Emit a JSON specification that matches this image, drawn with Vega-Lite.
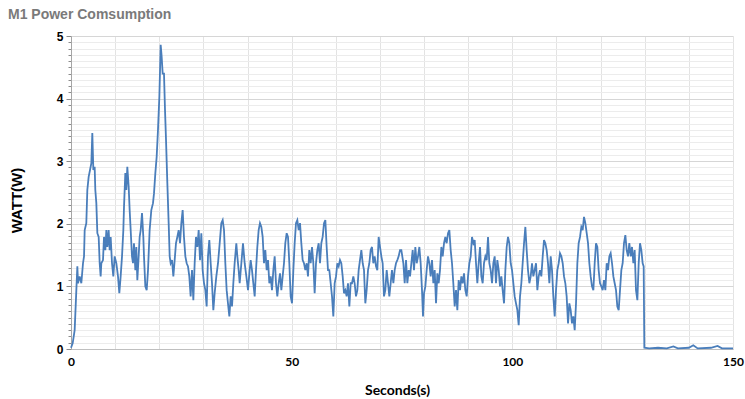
{
  "$schema": "https://vega.github.io/schema/vega-lite/v6.json",
  "autosize": {"type": "none"},
  "width": 662,
  "height": 313,
  "padding": {"left": 71, "top": 36, "right": 12, "bottom": 50},
  "background": "white",
  "title": {
    "text": "M1 Power Comsumption",
    "anchor": "start",
    "frame": "group",
    "dx": -63,
    "dy": 15,
    "offset": 12,
    "baseline": "alphabetic",
    "font": "Liberation Sans",
    "fontSize": 14,
    "fontWeight": "bold",
    "color": "#7a7a7a"
  },
  "config": {
    "view": {"stroke": null},
    "axis": {"labelFlush": false, "labelOverlap": false}
  },
  "data": {
    "values": [
      {"t":0,"w":0.02},{"t":0.38,"w":0.09},{"t":0.83,"w":0.30},{"t":1.21,"w":0.94},{"t":1.44,"w":1.32},{"t":1.59,"w":1.05},{"t":1.96,"w":1.16},{"t":2.34,"w":1.05},{"t":2.72,"w":1.37},{"t":2.95,"w":1.48},
      {"t":3.10,"w":1.90},{"t":3.47,"w":2.01},{"t":3.70,"w":2.54},{"t":4.00,"w":2.75},{"t":4.31,"w":2.86},{"t":4.61,"w":2.97},{"t":4.83,"w":3.45},{"t":5.06,"w":2.86},{"t":5.36,"w":2.91},{"t":5.51,"w":2.54},
      {"t":5.74,"w":2.33},{"t":5.97,"w":1.85},{"t":6.27,"w":1.79},{"t":6.50,"w":1.37},{"t":6.72,"w":1.16},{"t":6.87,"w":1.37},{"t":7.25,"w":1.42},{"t":7.48,"w":1.79},{"t":7.78,"w":1.58},{"t":8.01,"w":1.90},
      {"t":8.23,"w":1.63},{"t":8.53,"w":1.90},{"t":8.76,"w":1.58},{"t":8.99,"w":1.79},{"t":9.29,"w":1.37},{"t":9.59,"w":1.16},{"t":9.89,"w":1.48},{"t":10.27,"w":1.37},{"t":10.65,"w":1.16},{"t":10.95,"w":0.89},
      {"t":11.25,"w":1.16},{"t":11.56,"w":1.48},{"t":11.86,"w":1.90},{"t":12.01,"w":2.27},{"t":12.31,"w":2.81},{"t":12.54,"w":2.54},{"t":12.76,"w":2.91},{"t":13.07,"w":2.59},{"t":13.29,"w":2.22},{"t":13.52,"w":1.90},
      {"t":13.82,"w":1.48},{"t":14.05,"w":1.37},{"t":14.27,"w":1.69},{"t":14.58,"w":1.26},{"t":14.80,"w":1.63},{"t":15.03,"w":1.10},{"t":15.33,"w":1.48},{"t":15.56,"w":1.79},{"t":15.79,"w":1.90},{"t":16.09,"w":2.17},
      {"t":16.39,"w":1.79},{"t":16.54,"w":1.48},{"t":16.84,"w":1.00},{"t":17.15,"w":0.94},{"t":17.45,"w":1.26},{"t":17.82,"w":1.90},{"t":18.20,"w":2.22},{"t":18.58,"w":2.33},{"t":18.81,"w":2.49},{"t":19.11,"w":2.81},
      {"t":19.41,"w":3.07},{"t":19.71,"w":3.50},{"t":20.02,"w":4.03},{"t":20.32,"w":4.86},{"t":20.54,"w":4.67},{"t":20.77,"w":4.40},{"t":21.07,"w":4.40},{"t":21.30,"w":3.82},{"t":21.53,"w":3.34},{"t":21.83,"w":2.65},
      {"t":22.13,"w":2.01},{"t":22.36,"w":1.48},{"t":22.58,"w":1.37},{"t":22.89,"w":1.42},{"t":23.19,"w":1.16},{"t":23.49,"w":1.42},{"t":23.79,"w":1.69},{"t":24.09,"w":1.79},{"t":24.40,"w":1.90},{"t":24.70,"w":1.69},
      {"t":25.00,"w":2.01},{"t":25.30,"w":2.22},{"t":25.60,"w":1.79},{"t":25.91,"w":1.48},{"t":26.21,"w":1.37},{"t":26.51,"w":1.32},{"t":26.81,"w":1.16},{"t":27.11,"w":0.84},{"t":27.42,"w":1.26},{"t":27.72,"w":0.78},
      {"t":28.02,"w":1.37},{"t":28.32,"w":1.79},{"t":28.63,"w":1.63},{"t":28.93,"w":1.90},{"t":29.23,"w":1.42},{"t":29.53,"w":1.85},{"t":29.83,"w":1.26},{"t":30.14,"w":1.05},{"t":30.44,"w":0.94},{"t":30.74,"w":0.68},
      {"t":31.04,"w":1.48},{"t":31.34,"w":1.74},{"t":31.65,"w":1.37},{"t":31.95,"w":1.05},{"t":32.25,"w":0.62},{"t":32.55,"w":0.89},{"t":32.93,"w":1.16},{"t":33.31,"w":1.37},{"t":33.69,"w":1.69},{"t":34.06,"w":2.01},
      {"t":34.37,"w":2.06},{"t":34.67,"w":1.90},{"t":34.97,"w":1.37},{"t":35.27,"w":0.94},{"t":35.57,"w":0.73},{"t":35.88,"w":0.52},{"t":36.18,"w":0.84},{"t":36.48,"w":0.68},{"t":36.78,"w":1.05},{"t":37.08,"w":1.37},
      {"t":37.46,"w":1.69},{"t":37.69,"w":1.48},{"t":37.99,"w":1.26},{"t":38.22,"w":1.05},{"t":38.60,"w":1.37},{"t":38.97,"w":1.69},{"t":39.35,"w":1.37},{"t":39.73,"w":1.16},{"t":40.11,"w":0.94},{"t":40.48,"w":1.26},
      {"t":40.71,"w":1.42},{"t":41.01,"w":1.26},{"t":41.31,"w":1.05},{"t":41.62,"w":0.84},{"t":41.92,"w":1.26},{"t":42.22,"w":1.63},{"t":42.52,"w":1.90},{"t":42.82,"w":2.01},{"t":43.13,"w":1.95},{"t":43.43,"w":1.79},
      {"t":43.73,"w":1.37},{"t":44.03,"w":1.58},{"t":44.34,"w":1.26},{"t":44.64,"w":1.42},{"t":44.94,"w":1.05},{"t":45.24,"w":1.16},{"t":45.54,"w":0.94},{"t":45.85,"w":1.26},{"t":46.15,"w":1.48},{"t":46.45,"w":1.05},
      {"t":46.75,"w":0.84},{"t":47.05,"w":1.05},{"t":47.36,"w":1.21},{"t":47.66,"w":0.94},{"t":47.96,"w":1.16},{"t":48.26,"w":1.37},{"t":48.56,"w":1.69},{"t":48.87,"w":1.85},{"t":49.17,"w":1.79},{"t":49.47,"w":1.37},
      {"t":49.77,"w":0.84},{"t":50.08,"w":0.73},{"t":50.38,"w":1.26},{"t":50.68,"w":1.69},{"t":50.98,"w":2.01},{"t":51.28,"w":2.06},{"t":51.59,"w":1.90},{"t":51.89,"w":2.01},{"t":52.19,"w":1.69},{"t":52.49,"w":1.42},
      {"t":52.79,"w":1.37},{"t":53.10,"w":1.26},{"t":53.40,"w":1.37},{"t":53.70,"w":1.16},{"t":54.00,"w":1.58},{"t":54.31,"w":1.37},{"t":54.61,"w":1.63},{"t":54.91,"w":1.37},{"t":55.21,"w":0.89},{"t":55.51,"w":1.37},
      {"t":55.82,"w":1.58},{"t":56.12,"w":1.69},{"t":56.42,"w":1.37},{"t":56.72,"w":1.69},{"t":57.02,"w":1.79},{"t":57.33,"w":2.01},{"t":57.63,"w":2.06},{"t":57.93,"w":1.63},{"t":58.23,"w":1.26},{"t":58.53,"w":1.26},
      {"t":58.84,"w":1.05},{"t":59.14,"w":0.84},{"t":59.44,"w":0.52},{"t":59.74,"w":1.05},{"t":60.05,"w":1.16},{"t":60.35,"w":1.37},{"t":60.65,"w":1.32},{"t":60.95,"w":1.42},{"t":61.25,"w":1.37},{"t":61.56,"w":1.16},
      {"t":61.86,"w":0.89},{"t":62.16,"w":0.94},{"t":62.46,"w":0.84},{"t":62.76,"w":1.05},{"t":63.07,"w":0.68},{"t":63.37,"w":1.05},{"t":63.67,"w":1.05},{"t":63.97,"w":1.16},{"t":64.27,"w":1.05},{"t":64.58,"w":0.84},
      {"t":64.88,"w":0.94},{"t":65.18,"w":1.26},{"t":65.48,"w":1.42},{"t":65.79,"w":1.58},{"t":66.09,"w":1.37},{"t":66.39,"w":1.26},{"t":66.69,"w":0.73},{"t":66.99,"w":0.94},{"t":67.30,"w":1.26},{"t":67.60,"w":1.37},
      {"t":67.90,"w":1.58},{"t":68.20,"w":1.63},{"t":68.50,"w":1.37},{"t":68.81,"w":1.48},{"t":69.11,"w":1.32},{"t":69.41,"w":1.26},{"t":69.71,"w":1.79},{"t":70.02,"w":1.63},{"t":70.32,"w":1.48},{"t":70.62,"w":1.37},
      {"t":70.92,"w":0.84},{"t":71.22,"w":0.94},{"t":71.53,"w":1.26},{"t":71.83,"w":1.05},{"t":72.13,"w":0.84},{"t":72.43,"w":1.05},{"t":72.73,"w":1.26},{"t":73.04,"w":1.05},{"t":73.34,"w":1.26},{"t":73.64,"w":1.37},
      {"t":73.94,"w":1.42},{"t":74.24,"w":1.48},{"t":74.55,"w":1.58},{"t":74.85,"w":1.58},{"t":75.31,"w":1.37},{"t":75.61,"w":1.05},{"t":75.91,"w":1.42},{"t":76.21,"w":1.05},{"t":76.51,"w":1.26},{"t":76.82,"w":1.16},
      {"t":77.12,"w":1.37},{"t":77.42,"w":1.58},{"t":77.72,"w":1.26},{"t":78.02,"w":1.63},{"t":78.33,"w":1.37},{"t":78.63,"w":1.48},{"t":78.93,"w":1.63},{"t":79.23,"w":1.37},{"t":79.53,"w":0.94},{"t":79.76,"w":0.52},
      {"t":79.99,"w":0.89},{"t":80.29,"w":1.00},{"t":80.59,"w":1.26},{"t":80.89,"w":1.48},{"t":81.20,"w":1.37},{"t":81.50,"w":1.16},{"t":81.80,"w":1.42},{"t":82.10,"w":1.05},{"t":82.41,"w":1.26},{"t":82.71,"w":0.73},
      {"t":83.01,"w":1.21},{"t":83.31,"w":1.05},{"t":83.61,"w":1.26},{"t":83.92,"w":1.63},{"t":84.22,"w":1.48},{"t":84.52,"w":1.69},{"t":84.82,"w":1.79},{"t":85.12,"w":1.69},{"t":85.43,"w":1.85},{"t":85.73,"w":1.90},
      {"t":86.03,"w":1.58},{"t":86.33,"w":1.37},{"t":86.63,"w":1.05},{"t":86.94,"w":0.68},{"t":87.24,"w":0.94},{"t":87.54,"w":0.62},{"t":87.84,"w":1.10},{"t":88.15,"w":0.94},{"t":88.45,"w":1.16},{"t":88.75,"w":1.05},
      {"t":89.05,"w":1.21},{"t":89.35,"w":0.94},{"t":89.66,"w":0.84},{"t":89.96,"w":1.16},{"t":90.26,"w":1.37},{"t":90.56,"w":1.48},{"t":90.86,"w":1.79},{"t":91.17,"w":1.69},{"t":91.47,"w":1.74},{"t":91.77,"w":1.37},
      {"t":92.07,"w":1.05},{"t":92.37,"w":1.37},{"t":92.68,"w":1.63},{"t":92.98,"w":1.16},{"t":93.28,"w":1.05},{"t":93.58,"w":1.37},{"t":93.89,"w":1.48},{"t":94.19,"w":1.42},{"t":94.49,"w":1.79},{"t":94.79,"w":1.37},
      {"t":95.09,"w":1.26},{"t":95.40,"w":1.05},{"t":95.70,"w":1.37},{"t":96.00,"w":1.48},{"t":96.30,"w":1.05},{"t":96.60,"w":1.42},{"t":96.91,"w":1.26},{"t":97.21,"w":1.00},{"t":97.51,"w":1.16},{"t":97.81,"w":0.94},
      {"t":98.12,"w":0.73},{"t":98.42,"w":1.26},{"t":98.72,"w":1.63},{"t":99.02,"w":1.79},{"t":99.32,"w":1.69},{"t":99.63,"w":1.37},{"t":99.93,"w":1.26},{"t":100.23,"w":1.05},{"t":100.53,"w":0.84},{"t":100.83,"w":0.73},
      {"t":101.14,"w":0.62},{"t":101.44,"w":0.38},{"t":101.74,"w":0.84},{"t":102.04,"w":1.05},{"t":102.34,"w":1.37},{"t":102.65,"w":1.69},{"t":102.95,"w":1.95},{"t":103.25,"w":1.58},{"t":103.55,"w":1.26},{"t":103.86,"w":1.05},
      {"t":104.16,"w":1.16},{"t":104.46,"w":1.37},{"t":104.76,"w":1.16},{"t":105.06,"w":1.26},{"t":105.37,"w":1.37},{"t":105.67,"w":0.94},{"t":105.97,"w":1.16},{"t":106.27,"w":1.26},{"t":106.57,"w":1.16},{"t":106.88,"w":1.48},
      {"t":107.18,"w":1.74},{"t":107.48,"w":1.69},{"t":107.78,"w":1.58},{"t":108.08,"w":1.37},{"t":108.39,"w":1.05},{"t":108.69,"w":1.48},{"t":108.99,"w":1.26},{"t":109.29,"w":0.84},{"t":109.60,"w":0.52},{"t":109.90,"w":0.94},
      {"t":110.20,"w":1.26},{"t":110.50,"w":1.37},{"t":110.80,"w":1.53},{"t":111.11,"w":1.48},{"t":111.41,"w":1.37},{"t":111.71,"w":1.16},{"t":112.01,"w":1.05},{"t":112.31,"w":0.84},{"t":112.62,"w":0.41},{"t":112.92,"w":0.73},
      {"t":113.22,"w":0.62},{"t":113.52,"w":0.41},{"t":113.82,"w":0.52},{"t":114.13,"w":0.30},{"t":114.43,"w":0.73},{"t":114.73,"w":1.37},{"t":115.03,"w":1.69},{"t":115.34,"w":1.79},{"t":115.64,"w":1.95},{"t":115.94,"w":1.90},
      {"t":116.24,"w":2.11},{"t":116.54,"w":2.01},{"t":116.85,"w":1.85},{"t":117.15,"w":1.69},{"t":117.45,"w":1.37},{"t":117.75,"w":1.16},{"t":118.05,"w":1.00},{"t":118.36,"w":0.94},{"t":118.66,"w":1.37},{"t":118.96,"w":1.69},
      {"t":119.26,"w":1.63},{"t":119.56,"w":1.26},{"t":119.87,"w":1.05},{"t":120.17,"w":1.00},{"t":120.47,"w":0.94},{"t":120.77,"w":1.10},{"t":121.08,"w":0.94},{"t":121.38,"w":1.37},{"t":121.68,"w":1.26},{"t":121.98,"w":1.48},
      {"t":122.28,"w":1.53},{"t":122.59,"w":1.37},{"t":122.89,"w":1.16},{"t":123.19,"w":1.05},{"t":123.49,"w":0.94},{"t":123.79,"w":0.68},{"t":124.10,"w":0.62},{"t":124.40,"w":0.94},{"t":124.70,"w":1.26},{"t":125.00,"w":1.37},
      {"t":125.30,"w":1.69},{"t":125.61,"w":1.82},{"t":125.91,"w":1.58},{"t":126.21,"w":1.48},{"t":126.51,"w":1.69},{"t":126.82,"w":1.48},{"t":127.12,"w":1.63},{"t":127.42,"w":1.37},{"t":127.72,"w":1.58},{"t":128.02,"w":0.94},
      {"t":128.33,"w":0.78},{"t":128.63,"w":1.37},{"t":128.93,"w":1.69},{"t":129.23,"w":1.58},{"t":129.53,"w":1.37},{"t":129.76,"w":1.32},{"t":129.91,"w":0.02},{"t":131,"w":0.01},{"t":133,"w":0.02},{"t":135,"w":0.01},
      {"t":136.5,"w":0.04},{"t":137.5,"w":0.01},{"t":140,"w":0.02},{"t":141,"w":0.06},{"t":142,"w":0.01},{"t":145,"w":0.02},{"t":146.5,"w":0.05},{"t":147.5,"w":0.01},{"t":150,"w":0.01}
    ]
  },
  "mark": {"type": "line", "color": "#4a7ebb", "strokeWidth": 1.8, "interpolate": "linear"},
  "encoding": {
    "x": {
      "field": "t",
      "type": "quantitative",
      "scale": {"domain": [0, 150], "nice": false, "zero": false},
      "axis": {
        "title": "Seconds(s)",
        "values": [0,10,20,30,40,50,60,70,80,90,100,110,120,130,140,150],
        "labelExpr": "datum.value % 50 === 0 ? datum.label : ''",
        "grid": true,
        "gridColor": "#e3e3e3",
        "gridWidth": 1,
        "ticks": false,
        "tickSize": 0,
        "domain": true,
        "domainColor": "#bfbfbf",
        "domainWidth": 1,
        "labelFont": "Lato",
        "labelFontWeight": "bold",
        "labelFontSize": 12,
        "labelColor": "#000000",
        "labelPadding": 7,
        "titleFont": "Lato",
        "titleFontWeight": "bold",
        "titleFontSize": 14,
        "titleColor": "#000000",
        "titleBaseline": "alphabetic",
        "titleX": 326,
        "titleY": 45
      }
    },
    "y": {
      "field": "w",
      "type": "quantitative",
      "scale": {"domain": [0, 5], "nice": false},
      "axis": {
        "title": "WATT(W)",
        "values": [0,0.1,0.2,0.3,0.4,0.5,0.6,0.7,0.8,0.9,1,1.1,1.2,1.3,1.4,1.5,1.6,1.7,1.8,1.9,2,2.1,2.2,2.3,2.4,2.5,2.6,2.7,2.8,2.9,3,3.1,3.2,3.3,3.4,3.5,3.6,3.7,3.8,3.9,4,4.1,4.2,4.3,4.4,4.5,4.6,4.7,4.8,4.9,5],
        "labelExpr": "datum.value % 1 === 0 ? '' + datum.value : ''",
        "grid": true,
        "gridColor": {"condition": {"test": "datum.value % 1 === 0", "value": "#d6d6d6"}, "value": "#ececec"},
        "gridWidth": 1,
        "ticks": true,
        "tickColor": "#8c8c8c",
        "tickSize": {"condition": {"test": "datum.value % 1 === 0", "value": 5}, "value": 3},
        "tickOffset": 0,
        "domain": true,
        "domainColor": "#a6a6a6",
        "domainWidth": 1,
        "labelFont": "Liberation Sans",
        "labelFontWeight": "bold",
        "labelFontSize": 12,
        "labelColor": "#000000",
        "labelPadding": 3,
        "titleFont": "Liberation Sans",
        "titleFontWeight": "bold",
        "titleFontSize": 15,
        "titleColor": "#000000",
        "titleBaseline": "middle",
        "titleAngle": -90,
        "titleX": -55,
        "titleY": 164
      }
    }
  }
}
